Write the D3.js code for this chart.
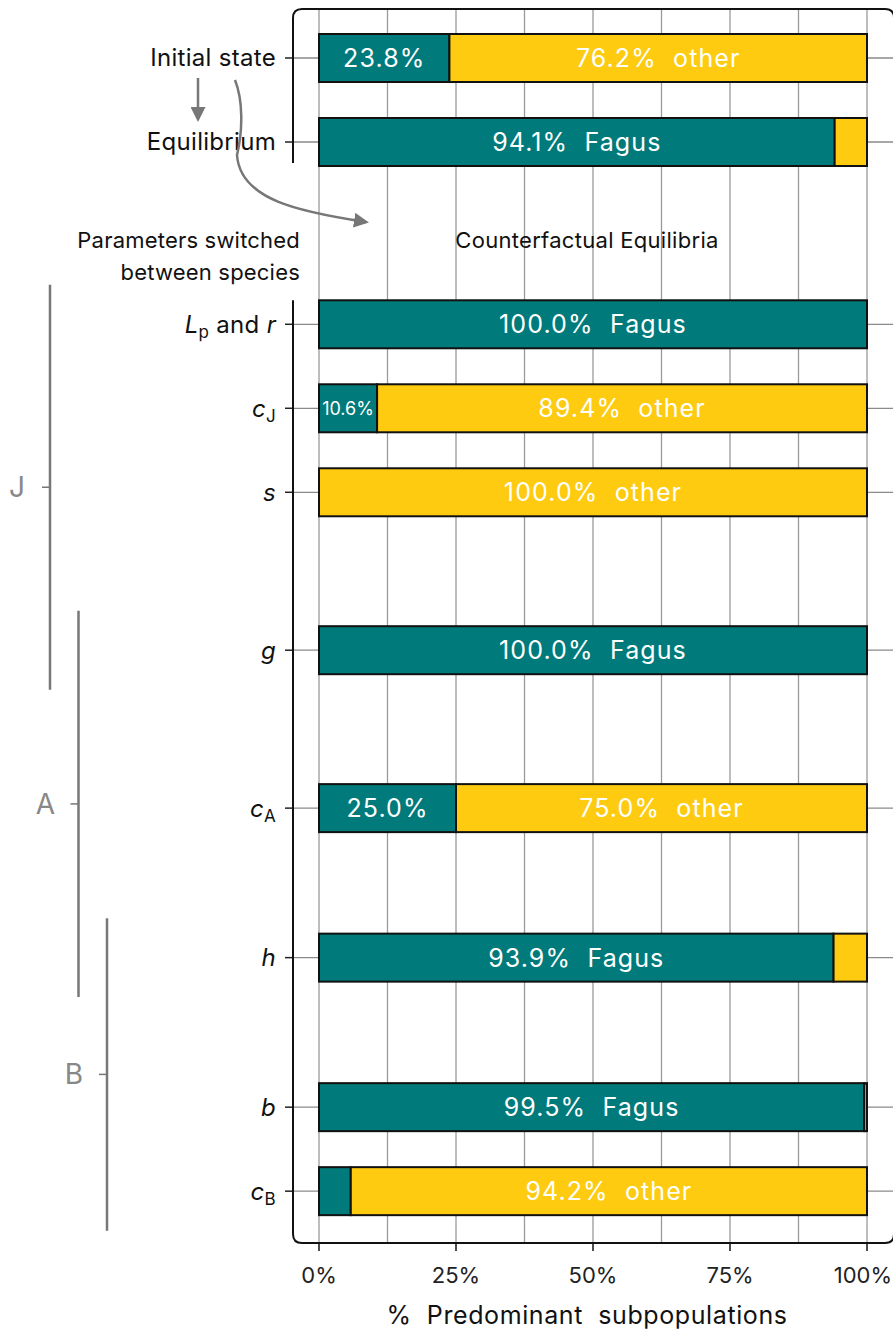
<!DOCTYPE html>
<html>
<head>
<meta charset="utf-8">
<script src="https://cdn.jsdelivr.net/npm/d3@7"></script>
<style>
  body { margin: 0; background: #fff; }
  svg text { font-family: Inter, "Open Sans", sans-serif; }
</style>
</head>
<body>
<div id="chart"></div>
<script>
(function(){

    //data
    var rowNames = ["Initial state", "Equilibrium", "Lp and r", "cJ", "s", "g", "cA", "h", "b", "cB"];
    var rowSlot = [0, 1, 3.17, 4.17, 5.17, 7.05, 8.93, 10.71, 12.49, 13.49];
    var fagusShare = [23.8, 94.1, 100, 10.6, 0, 100, 25.0, 93.9, 99.5, 5.8];
    var xTicks = [0, 25, 50, 75, 100];
    var groupNames = ["J", "A", "B"];
    var groupFirst = ["Lp and r", "g", "h"];
    var groupLast = ["g", "h", "cB"];

    //rich labels for the parameter rows (italic symbol, upright subscript)
    var labelParts = {
        "Lp and r": [["L", "i"], ["p", "sub"], [" and ", ""], ["r", "i"]],
        "cJ": [["c", "i"], ["J", "sub"]],
        "s": [["s", "i"]],
        "g": [["g", "i"]],
        "cA": [["c", "i"], ["A", "sub"]],
        "h": [["h", "i"]],
        "b": [["b", "i"]],
        "cB": [["c", "i"], ["B", "sub"]]
    };

    var teal = "#007a7a", yellow = "#fecb10", grey = "#777";

    var width = 893, height = 1331;
    var panelLeft = 293, panelRight = 894, panelTop = 9, panelBottom = 1243;

    var svg = d3.select("#chart").append("svg")
        .attr("width", width)
        .attr("height", height);

    var x = d3.scaleLinear().domain([0, 100]).range([319, 867]);
    var y = d3.scaleLinear().domain([0, 1]).range([58, 142]);
    var barH = 48;
    var titleX = 587;

    var rows = rowNames.map(function(n, i){
        return {name: n, pos: rowSlot[i], fagus: fagusShare[i], other: +(100 - fagusShare[i]).toFixed(1)};
    });

    //vertical grid (every 12.5%)
    svg.append("g").selectAll("line")
        .data(d3.range(0, 100.1, 12.5))
        .enter().append("line")
        .attr("x1", function(d){ return x(d); })
        .attr("x2", function(d){ return x(d); })
        .attr("y1", panelTop).attr("y2", panelBottom)
        .attr("stroke", "#9a9a9a").attr("stroke-width", 1.3);

    //horizontal grid + ticks
    svg.append("g").selectAll("line")
        .data(rows)
        .enter().append("line")
        .attr("x1", panelLeft).attr("x2", panelRight)
        .attr("y1", function(d){ return y(d.pos); })
        .attr("y2", function(d){ return y(d.pos); })
        .attr("stroke", "#8a8a8a").attr("stroke-width", 1.3);
    svg.append("g").selectAll("line")
        .data(rows)
        .enter().append("line")
        .attr("x1", panelLeft - 8).attr("x2", panelLeft)
        .attr("y1", function(d){ return y(d.pos); })
        .attr("y2", function(d){ return y(d.pos); })
        .attr("stroke", "#222").attr("stroke-width", 1.5);

    //panel border with a gap on the left side
    var r = 9, gapTop = y(1) + 21, gapBottom = y(rowSlot[2]) - 24;
    svg.append("path")
        .attr("d", "M" + panelLeft + "," + gapTop +
            " V" + (panelTop + r) + " Q" + panelLeft + "," + panelTop + " " + (panelLeft + r) + "," + panelTop +
            " H" + (panelRight - r) + " Q" + panelRight + "," + panelTop + " " + panelRight + "," + (panelTop + r) +
            " V" + (panelBottom - r) + " Q" + panelRight + "," + panelBottom + " " + (panelRight - r) + "," + panelBottom +
            " H" + (panelLeft + r) + " Q" + panelLeft + "," + panelBottom + " " + panelLeft + "," + (panelBottom - r) +
            " V" + gapBottom)
        .attr("fill", "none").attr("stroke", "#111").attr("stroke-width", 2);

    //bars
    var bars = svg.append("g").selectAll("g")
        .data(rows)
        .enter().append("g");

    bars.append("rect")
        .attr("x", x(0))
        .attr("y", function(d){ return y(d.pos) - barH / 2; })
        .attr("width", function(d){ return x(d.fagus) - x(0); })
        .attr("height", barH)
        .attr("fill", teal)
        .attr("stroke", "#111").attr("stroke-width", 2)
        .style("display", function(d){ return d.fagus > 0 ? null : "none"; });

    bars.append("rect")
        .attr("x", function(d){ return x(d.fagus); })
        .attr("y", function(d){ return y(d.pos) - barH / 2; })
        .attr("width", function(d){ return x(100) - x(d.fagus); })
        .attr("height", barH)
        .attr("fill", yellow)
        .attr("stroke", "#111").attr("stroke-width", 2)
        .style("display", function(d){ return d.other > 0 ? null : "none"; });

    //segment labels
    bars.each(function(d){
        var g = d3.select(this);
        var cy = y(d.pos);
        var segs = [
            {v: d.fagus, name: "Fagus", x0: 0, x1: d.fagus},
            {v: d.other, name: "other", x0: d.fagus, x1: 100}
        ];
        segs.forEach(function(s){
            if (s.v < 10) return;
            var small = s.v < 15;
            var txt = s.v >= 50 ? s.v.toFixed(1) + "%  " + s.name : s.v.toFixed(1) + "%";
            g.append("text")
                .attr("x", (x(s.x0) + x(s.x1)) / 2)
                .attr("y", cy)
                .attr("dy", "0.36em")
                .attr("text-anchor", "middle")
                .attr("fill", "#fff")
                .style("white-space", "pre")
                .style("letter-spacing", small ? "0px" : "1.1px")
                .attr("font-size", small ? 18 : 25)
                .text(txt);
        });
    });

    //row labels
    var labels = svg.append("g").selectAll("text")
        .data(rows)
        .enter().append("text")
        .attr("x", panelLeft - 17)
        .attr("y", function(d){ return y(d.pos); })
        .attr("dy", "0.35em")
        .attr("text-anchor", "end")
        .attr("font-size", 24)
        .style("letter-spacing", "0.3px")
        .attr("fill", "#111");
    labels.each(function(d){
        var t = d3.select(this);
        var parts = labelParts[d.name];
        if (!parts) { t.text(d.name); return; }
        parts.forEach(function(p){
            var ts = t.append("tspan").style("white-space", "pre").text(p[0]);
            if (p[1] === "i") ts.attr("font-style", "italic");
            if (p[1] === "sub") ts.attr("font-size", 17).attr("baseline-shift", "-30%");
        });
    });

    //x axis
    var axis = svg.append("g").attr("transform", "translate(0," + panelBottom + ")");
    axis.selectAll("line")
        .data(xTicks).enter().append("line")
        .attr("x1", function(d){ return x(d); })
        .attr("x2", function(d){ return x(d); })
        .attr("y1", 0).attr("y2", 8)
        .attr("stroke", "#111").attr("stroke-width", 1.5);
    axis.selectAll("text")
        .data(xTicks).enter().append("text")
        .attr("x", function(d, i){ return i === xTicks.length - 1 ? width - 1 : x(d); })
        .attr("y", 40)
        .attr("text-anchor", function(d, i){ return i === xTicks.length - 1 ? "end" : "middle"; })
        .attr("font-size", 22)
        .attr("fill", "#222")
        .text(function(d){ return d + "%"; });
    svg.append("text")
        .attr("x", titleX)
        .attr("y", 1324)
        .attr("text-anchor", "middle")
        .attr("font-size", 25)
        .style("white-space", "pre")
        .style("letter-spacing", "0.6px")
        .attr("fill", "#111")
        .text("%  Predominant  subpopulations");

    //annotations between the panels
    svg.append("text")
        .attr("x", titleX)
        .attr("y", 248)
        .attr("text-anchor", "middle")
        .attr("font-size", 22)
        .style("letter-spacing", "0.3px")
        .attr("fill", "#111")
        .text("Counterfactual Equilibria");
    svg.append("text")
        .attr("x", 300).attr("y", 248)
        .attr("text-anchor", "end")
        .attr("font-size", 22)
        .style("letter-spacing", "0.2px")
        .attr("fill", "#111")
        .text("Parameters switched");
    svg.append("text")
        .attr("x", 300).attr("y", 280)
        .attr("text-anchor", "end")
        .attr("font-size", 22)
        .style("letter-spacing", "0.2px")
        .attr("fill", "#111")
        .text("between species");

    //arrows
    svg.append("defs").append("marker")
        .attr("id", "head")
        .attr("viewBox", "0 0 10 10")
        .attr("refX", 8).attr("refY", 5)
        .attr("markerWidth", 6).attr("markerHeight", 6)
        .attr("orient", "auto-start-reverse")
        .append("path").attr("d", "M0,0 L10,5 L0,10 Z").attr("fill", grey);

    svg.append("line")
        .attr("x1", 198).attr("y1", 78).attr("x2", 198).attr("y2", 119)
        .attr("stroke", grey).attr("stroke-width", 2.5)
        .attr("marker-end", "url(#head)");
    svg.append("path")
        .attr("d", "M235,80 C243,100 243,130 237,155 C240,200 300,212 366,222")
        .attr("fill", "none")
        .attr("stroke", grey).attr("stroke-width", 2.5)
        .attr("marker-end", "url(#head)");

    //parameter group brackets
    var pad = 0.47;
    var posOf = function(n){ return rowSlot[rowNames.indexOf(n)]; };
    groupNames.forEach(function(gname, i){
        var lx = 50 + i * 28.5;
        var y0 = y(posOf(groupFirst[i]) - pad), y1 = y(posOf(groupLast[i]) + pad);
        var ym = (y0 + y1) / 2;
        svg.append("line")
            .attr("x1", lx).attr("x2", lx).attr("y1", y0).attr("y2", y1)
            .attr("stroke", grey).attr("stroke-width", 2.5);
        svg.append("line")
            .attr("x1", lx - 8).attr("x2", lx).attr("y1", ym).attr("y2", ym)
            .attr("stroke", grey).attr("stroke-width", 1.5);
        svg.append("text")
            .attr("x", lx - 33).attr("y", ym)
            .attr("dy", "0.36em")
            .attr("text-anchor", "middle")
            .attr("font-size", 28)
            .attr("fill", "#888")
            .text(gname);
    });

})();
</script>
</body>
</html>
